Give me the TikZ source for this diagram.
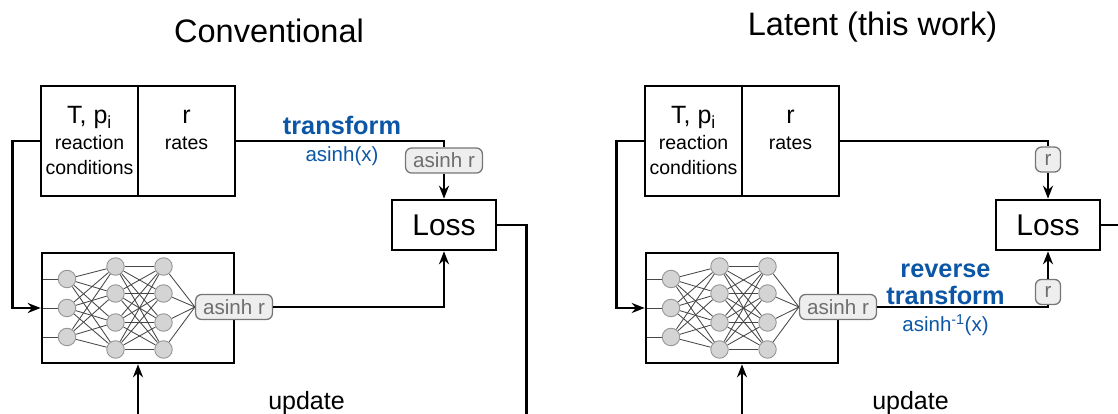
\documentclass[tikz,border=0pt]{standalone}
\usepackage{fontspec}
\setmainfont{Liberation Sans}
\usepackage{tikz}
\usetikzlibrary{arrows.meta,positioning,fit,backgrounds,calc}
\usepackage{xcolor}
\definecolor{trblue}{RGB}{12,86,166}
\definecolor{pillfill}{RGB}{238,238,238}
\definecolor{pillline}{RGB}{118,118,118}
\definecolor{pilltext}{RGB}{110,110,110}
\definecolor{neuronfill}{RGB}{212,212,212}
\definecolor{neuronline}{RGB}{150,150,150}
% three layers of neurons inside net box #1, output lines run into pill #2
\newcommand{\nnetlayers}[2]{%
  \foreach \k/\dy in {1/29,2/0,3/-29}
    \node[neuron] (#1a\k) at ($(#1.center)+(-71,\dy)$) {};
  \foreach \k/\dy in {1/41.5,2/14.5,3/-14.5,4/-41.5} {
    \node[neuron] (#1b\k) at ($(#1.center)+(-22.5,\dy)$) {};
    \node[neuron] (#1c\k) at ($(#1.center)+(25.5,\dy)$) {};
  }
  \begin{scope}[on background layer]
    \foreach \k in {1,2,3} {
      \draw[synapse] (#1.west |- #1a\k) -- (#1a\k);
      \foreach \m in {1,...,4} \draw[synapse] (#1a\k) -- (#1b\m);
    }
    \foreach \k in {1,...,4} {
      \foreach \m in {1,...,4} \draw[synapse] (#1b\k) -- (#1c\m);
      \draw[synapse] (#1c\k) -- (#2.west);
    }
  \end{scope}}

\begin{document}
\begin{tikzpicture}[x=1pt,y=1pt,
  title/.style={anchor=base, font=\fontsize{32.5}{39}\selectfont},
  cellbox/.style={draw, line width=1.4pt, minimum width=97pt, minimum height=110pt,
    outer sep=0pt, inner sep=0pt, align=center, font=\fontsize{19.5}{25.5}\selectfont},
  framebox/.style={draw, line width=2.6pt, inner sep=0pt},
  lossbox/.style={framebox, minimum width=104pt, minimum height=50pt,
    font=\fontsize{30}{32}\selectfont},
  pill/.style={draw=pillline, fill=pillfill, text=pilltext, line width=1.3pt,
    rounded corners=6pt, inner xsep=7.5pt, inner ysep=0pt, minimum height=25pt,
    font=\fontsize{20.6}{22}\selectfont},
  rpill/.style={pill, minimum width=25pt, inner xsep=2pt},
  neuron/.style={circle, draw=neuronline, fill=neuronfill, line width=0.9pt,
    minimum size=17.5pt, inner sep=0pt},
  synapse/.style={draw=black!72, line width=0.85pt},
  trbold/.style={text=trblue, align=center, font=\fontsize{25.3}{27}\selectfont\bfseries},
  trfn/.style={text=trblue, anchor=base, font=\fontsize{20.5}{22}\selectfont},
  plain/.style={anchor=base, font=\fontsize{25}{28}\selectfont},
  flow/.style={line width=2.4pt},
  arrowflow/.style={flow, -{Stealth[length=13pt,width=10pt]}}]

\useasboundingbox (0,0) rectangle (1118,414);

% ---- conventional training
\node[title] (titleConv) at (269,371.3) {Conventional};

\node[cellbox] (condConv) at (89.5,273)
  {{\fontsize{25}{26}\selectfont T, p\textsubscript{i}}\\reaction\\conditions};
\node[cellbox, right=0pt of condConv] (rateConv)
  {{\fontsize{25}{26}\selectfont r\vphantom{Tp}}\\rates\\\vphantom{c}};
\node[framebox, fit=(condConv)(rateConv)] (dataConv) {};

\node[framebox, minimum width=192pt, minimum height=110pt] (netConv) at (138,106) {};
\node[pill] (outConv) at (234,107) {asinh r};
\nnetlayers{netConv}{outConv}

\node[lossbox] (lossConv) at (444,189) {Loss};
\node[pill, above=25pt of lossConv] (tgtConv) {asinh r};

\node[trbold, anchor=base] (trConv) at (342,279) {transform};
\node[trfn] (fnConv) at (342,252.3) {asinh(x)};
\node[plain] (updConv) at (306.5,4) {update};

\coordinate (lossOutConv) at (526.5,0);
\coordinate (updInConv) at (138,0);

\draw[arrowflow] (dataConv.west) -- ++(-27.4,0) |- (netConv.west);
\draw[flow] (dataConv.east) -| (tgtConv.north);
\draw[arrowflow] (tgtConv) -- (lossConv);
\draw[arrowflow] (outConv) -| (lossConv.south);
\draw[flow] (lossConv.east) -| (lossOutConv);
\draw[arrowflow] (updInConv) -- (netConv.south);

% ---- latent training
\node[title] (titleLat) at (872.5,378) {Latent (this work)};

\node[cellbox] (condLat) at (693.5,273)
  {{\fontsize{25}{26}\selectfont T, p\textsubscript{i}}\\reaction\\conditions};
\node[cellbox, right=0pt of condLat] (rateLat)
  {{\fontsize{25}{26}\selectfont r\vphantom{Tp}}\\rates\\\vphantom{c}};
\node[framebox, fit=(condLat)(rateLat)] (dataLat) {};

\node[framebox, minimum width=192pt, minimum height=110pt] (netLat) at (742,106) {};
\node[pill] (outLat) at (838,107) {asinh r};
\nnetlayers{netLat}{outLat}

\node[lossbox] (lossLat) at (1048,189) {Loss};
\node[rpill, above=26pt of lossLat] (tgtLat) {r};
\node[rpill, below=27.5pt of lossLat] (predLat) {r};

\node[trbold] (trLat) at (945.5,129.3) {reverse\\transform};
\node[trfn] (fnLat) at (945.5,82.3) {asinh\textsuperscript{-1}(x)};
\node[plain] (updLat) at (910.5,4) {update};

\coordinate (lossOutLat) at (1130,189);
\coordinate (updInLat) at (742,0);

\draw[arrowflow] (dataLat.west) -- ++(-27.4,0) |- (netLat.west);
\draw[flow] (dataLat.east) -| (tgtLat.north);
\draw[arrowflow] (tgtLat) -- (lossLat);
\draw[flow] (outLat) -| (predLat.south);
\draw[arrowflow] (predLat) -- (lossLat);
\draw[flow] (lossLat.east) -- (lossOutLat);
\draw[arrowflow] (updInLat) -- (netLat.south);

\end{tikzpicture}
\end{document}
